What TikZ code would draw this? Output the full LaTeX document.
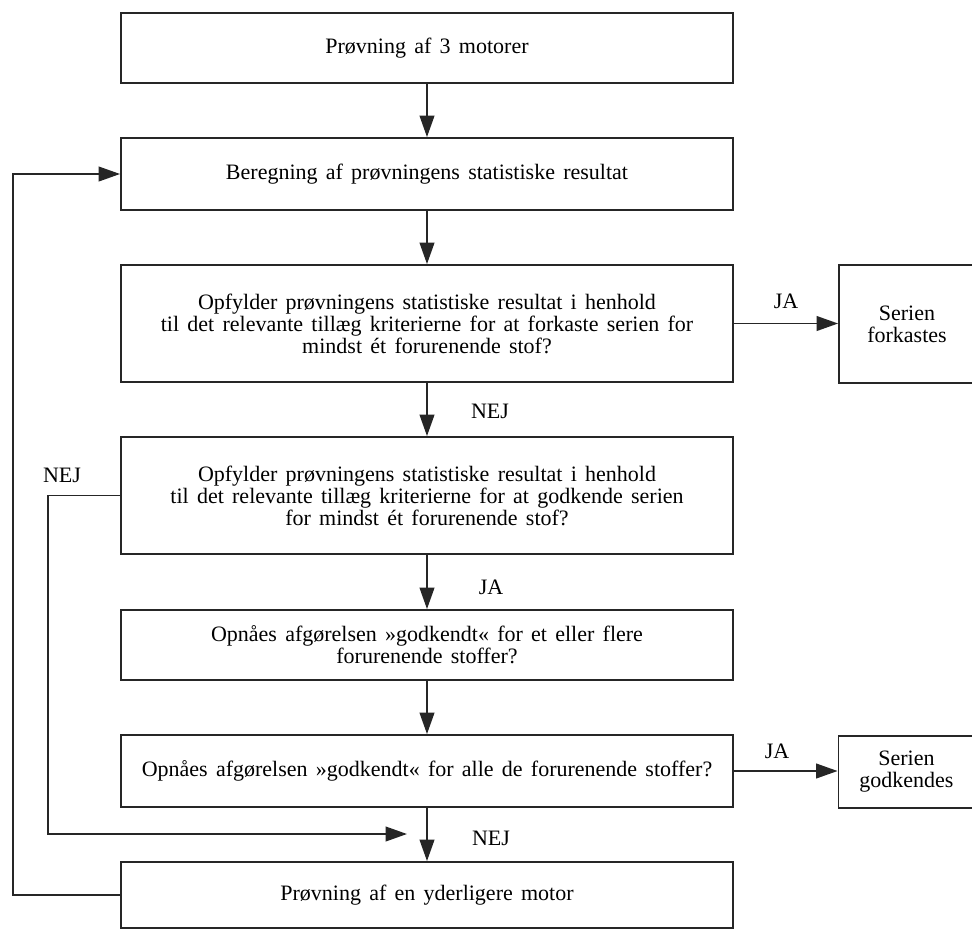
\documentclass[tikz,border=0pt]{standalone}
\usepackage{fontspec}
\setmainfont{Liberation Serif}[WordSpace=1.5]
\usetikzlibrary{arrows.meta}
\begin{document}
\begin{tikzpicture}[x=0.75pt,y=-0.75pt,
  every node/.style={font=\fontsize{16.5}{16.5}\selectfont, inner sep=0pt},
  box/.style={draw=black!85, line width=1.4pt, align=center, minimum width=459pt},
  rbox/.style={draw=black!85, line width=1.4pt, align=center, minimum width=102pt},
  lbl/.style={},
  arr/.style={draw=black!85, line width=1.3pt, -{Triangle[length=16pt,width=11pt]}},
  ln/.style={draw=black!85, line width=1.3pt}]
\useasboundingbox (0,0) rectangle (972,929);
\node[box, minimum height=52.5pt] (b1) at (427,48) {Prøvning af 3 motorer};
\node[box, minimum height=54pt] (b2) at (427,174) {Beregning af prøvningens statistiske resultat};
\node[box, minimum height=87.75pt] (b3) at (427,323.5) {Opfylder prøvningens statistiske resultat i henhold\\til det relevante tillæg kriterierne for at forkaste serien for\\mindst ét forurenende stof?};
\node[box, minimum height=87.75pt] (b4) at (427,495.5) {Opfylder prøvningens statistiske resultat i henhold\\til det relevante tillæg kriterierne for at godkende serien\\for mindst ét forurenende stof?};
\node[box, minimum height=52.5pt] (b5) at (427,645) {Opnåes afgørelsen »godkendt« for et eller flere\\forurenende stoffer?};
\node[box, minimum height=54pt] (b6) at (427,771) {Opnåes afgørelsen »godkendt« for alle de forurenende stoffer?};
\node[box, minimum height=49.5pt] (b7) at (427,895) {Prøvning af en yderligere motor};
\node[rbox, minimum height=88.5pt] (r1) at (907,324) {Serien\\forkastes};
\node[rbox, minimum height=54pt] (r2) at (906.5,772) {Serien\\godkendes};
\node[lbl] (l1) at (490,411) {NEJ};
\node[lbl] (l2) at (491,587) {JA};
\node[lbl] (l3) at (491,838) {NEJ};
\node[lbl] (l4) at (62,475) {NEJ};
\node[lbl] (l5) at (786,301) {JA};
\node[lbl] (l6) at (777,751) {JA};
\coordinate (outer) at (13,0);
\coordinate (inner) at (48,0);
\coordinate (join) at (407,834);
\draw[arr] (b1) -- (b2);
\draw[arr] (b2) -- (b3);
\draw[arr] (b3) -- (b4);
\draw[arr] (b4) -- (b5);
\draw[arr] (b5) -- (b6);
\draw[arr] (b6) -- (b7);
\draw[arr] (b3.east) -- (b3.east -| r1.west);
\draw[arr] (b6.east) -- (b6.east -| r2.west);
\draw[arr] (b7.west) -- (b7.west -| outer) |- (b2.west);
\draw[arr] (b4.west) -- (b4.west -| inner) |- (join);
\end{tikzpicture}
\end{document}
